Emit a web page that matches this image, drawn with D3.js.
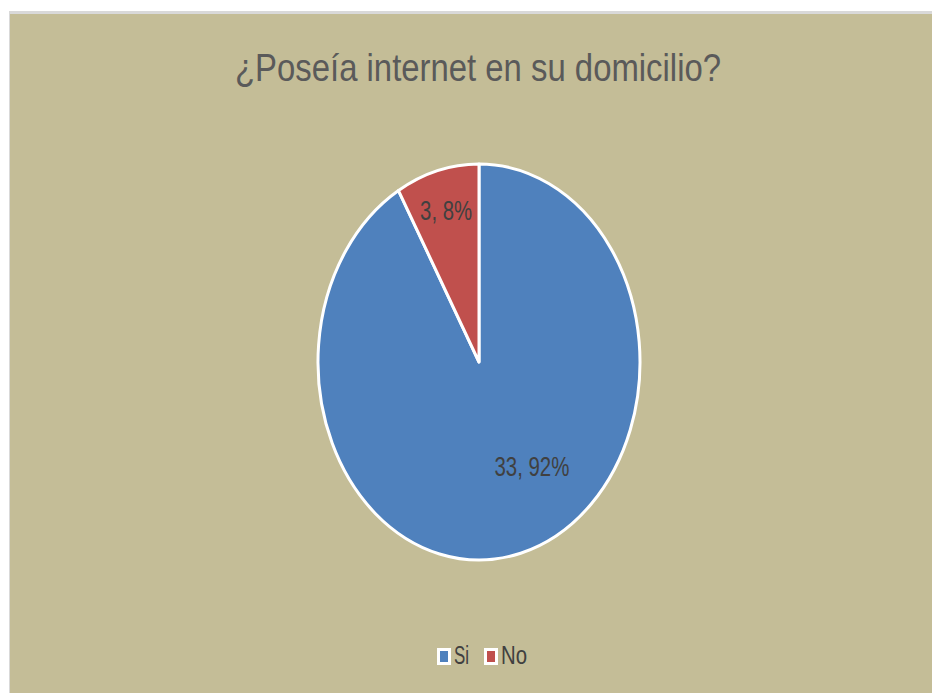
<!DOCTYPE html>
<html><head><meta charset="utf-8">
<script src="https://cdn.jsdelivr.net/npm/d3@7"></script>
<style>html,body{margin:0;padding:0;background:#fff;}</style>
</head><body>
<script>
const title = "¿Poseía internet en su domicilio?";
const categories = ["Si", "No"];
const values = [33, 3];
const labels = ["33, 92%", "3, 8%"];
const colors = ["#4F81BD", "#C0504D"];

const W = 932, H = 693;
const svg = d3.select("body").append("svg").attr("width", W).attr("height", H);

// frame
svg.append("rect").attr("x", 9).attr("y", 11).attr("width", W - 9).attr("height", H - 11).attr("fill", "#D9D9D9");
svg.append("rect").attr("x", 10).attr("y", 14).attr("width", W - 10).attr("height", H - 14).attr("fill", "#C4BD97");

svg.append("text").text(title)
  .attr("x", 478).attr("y", 81).attr("text-anchor", "middle")
  .attr("font-family", "Liberation Sans, Arial, sans-serif").attr("font-size", 39)
  .attr("fill", "#5a5a5a")
  .attr("textLength", 486).attr("lengthAdjust", "spacingAndGlyphs");

const cx = 479, cy = 362, rx = 161, ry = 198;
const pie = d3.pie().sort(null).value(d => d)(values);
const arc = d3.arc().innerRadius(0).outerRadius(ry);
const g = svg.append("g").attr("transform", `translate(${cx},${cy}) scale(${rx / ry},1)`);
g.selectAll("path").data(pie).join("path")
  .attr("d", arc).attr("fill", (d, i) => colors[i])
  .attr("stroke", "#fff").attr("stroke-width", 3)
  .attr("vector-effect", "non-scaling-stroke").attr("stroke-linejoin", "round");

// label placement (Excel-like best fit)
const labelR = [0.55, 0.79];
const labelDx = [30, 0];
pie.forEach((d, i) => {
  const la = d3.arc().innerRadius(ry * labelR[i]).outerRadius(ry * labelR[i]);
  const c = la.centroid(d);
  const x = cx + c[0] * rx / ry + labelDx[i], y = cy + c[1];
  svg.append("text").text(labels[i])
    .attr("x", x).attr("y", y).attr("text-anchor", "middle").attr("dominant-baseline", "central")
    .attr("font-family", "Liberation Sans, Arial, sans-serif").attr("font-size", 27)
    .attr("fill", "#404040")
    .attr("textLength", i === 0 ? 75 : 52).attr("lengthAdjust", "spacingAndGlyphs");
});

// legend
const legX = [437, 484];
categories.forEach((c, i) => {
  svg.append("rect").attr("x", legX[i]).attr("y", 648).attr("width", 14).attr("height", 17)
    .attr("fill", "#fff");
  svg.append("rect").attr("x", legX[i] + 3).attr("y", 651).attr("width", 8).attr("height", 11)
    .attr("fill", colors[i]);
  svg.append("text").text(c).attr("x", legX[i] + 17).attr("y", 664)
    .attr("font-family", "Liberation Sans, Arial, sans-serif").attr("font-size", 25)
    .attr("fill", "#404040")
    .attr("textLength", i === 0 ? 15 : 26).attr("lengthAdjust", "spacingAndGlyphs");
});
</script>
</body></html>
